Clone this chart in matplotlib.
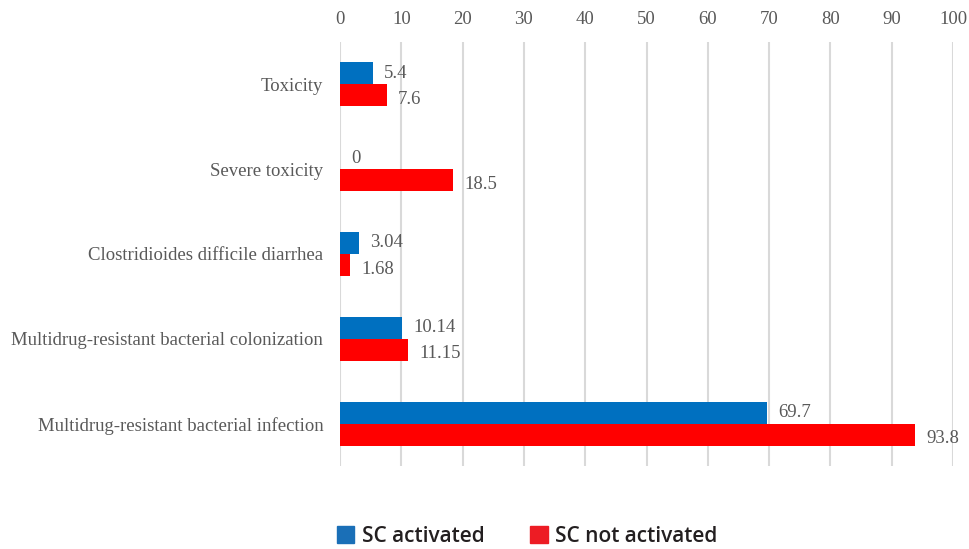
import matplotlib.pyplot as plt
from matplotlib.patches import Patch
import numpy as np

categories = [
    "Toxicity",
    "Severe toxicity",
    "Clostridioides difficile diarrhea",
    "Multidrug-resistant bacterial colonization",
    "Multidrug-resistant bacterial infection",
]
activated = [5.4, 0, 3.04, 10.14, 69.7]
not_activated = [7.6, 18.5, 1.68, 11.15, 93.8]
activated_labels = ["5.4", "0", "3.04", "10.14", "69.7"]
not_activated_labels = ["7.6", "18.5", "1.68", "11.15", "93.8"]

blue = "#0070C0"
red = "#FF0000"
text_col = "#595959"
fs = 13.5

fig = plt.figure(figsize=(9.69, 5.49), dpi=100)
ax = fig.add_axes([340 / 969, 1 - 466 / 549, 613 / 969, 424 / 549])

y = np.arange(len(categories))
h = 0.26
ax.barh(y - h / 2, activated, height=h, color=blue, zorder=3)
ax.barh(y + h / 2, not_activated, height=h, color=red, zorder=3)

# value labels just right of each bar end
for yi, v, lab in zip(y, activated, activated_labels):
    ax.annotate(lab, (v, yi - h / 2), xytext=(8, 0), textcoords="offset points",
                va="center", ha="left", fontsize=fs, color=text_col,
                family="Liberation Serif")
for yi, v, lab in zip(y, not_activated, not_activated_labels):
    ax.annotate(lab, (v, yi + h / 2), xytext=(8, -3), textcoords="offset points",
                va="center", ha="left", fontsize=fs, color=text_col,
                family="Liberation Serif")

ax.set_xlim(0, 100)
ax.set_xticks(np.arange(0, 101, 10))
ax.set_ylim(len(categories) - 0.5, -0.5)
ax.set_yticks(y)
ax.set_yticklabels(categories)
ax.xaxis.tick_top()
ax.tick_params(axis="both", length=0, labelsize=fs, labelcolor=text_col)
ax.tick_params(axis="x", pad=10)
ax.tick_params(axis="y", pad=12)
for lbl in ax.get_xticklabels() + ax.get_yticklabels():
    lbl.set_family("Liberation Serif")
ax.grid(True, axis="x", color="#D9D9D9", linewidth=1.5, zorder=0)
for s in ax.spines.values():
    s.set_visible(False)

handles = [Patch(color="#1A6FB7", label="SC activated"),
           Patch(color="#ED1C24", label="SC not activated")]
fig.legend(handles=handles, loc="center", bbox_to_anchor=(527 / 969, 1 - 536 / 549),
           ncol=2, frameon=False, handlelength=0.85, handleheight=0.85,
           handletextpad=0.35, columnspacing=2.2,
           prop={"family": "Open Sans", "size": 15, "weight": "semibold"},
           labelcolor="#231F20")

fig.savefig("out.png", dpi=100)
